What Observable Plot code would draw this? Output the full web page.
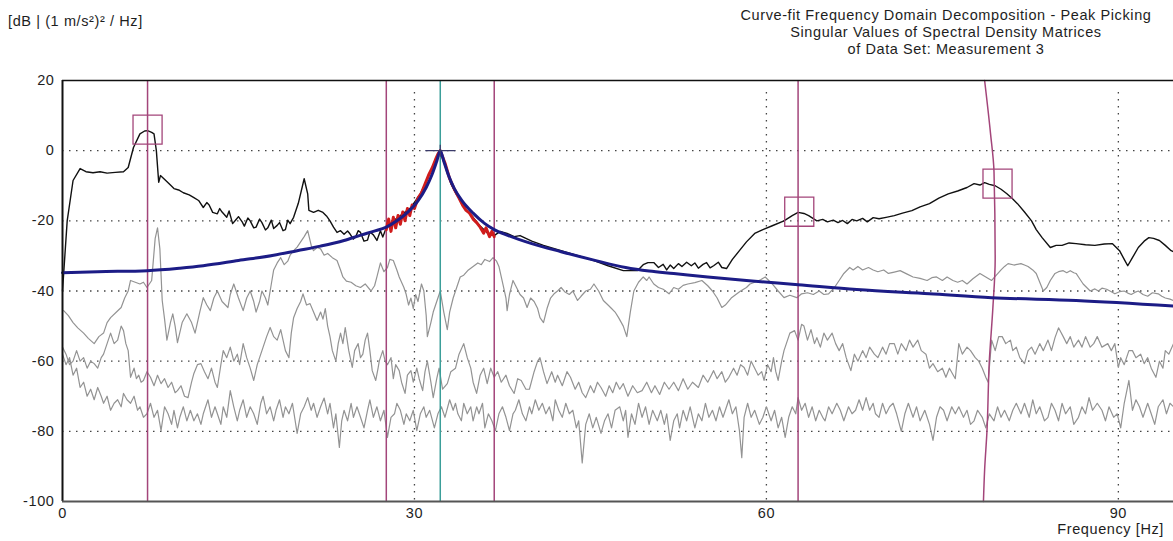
<!DOCTYPE html>
<html><head><meta charset="utf-8">
<script src="https://cdn.jsdelivr.net/npm/d3@7"></script>
<script src="https://cdn.jsdelivr.net/npm/@observablehq/plot@0.6"></script>
<style>
body{margin:0;background:#fff;}
#wrap{position:relative;width:1173px;height:541px;overflow:hidden;font-family:"Liberation Sans",Arial,sans-serif;color:#1e1e1e;font-size:14.5px;letter-spacing:0.6px}
.t{position:absolute;white-space:nowrap;line-height:17px}
</style></head><body>
<div id="wrap">
<div id="chart"></div>
<div class="t" id="ylab" style="left:8px;top:13px"></div>
<div class="t" id="title" style="left:646px;width:600px;top:7px;text-align:center"></div>
<div class="t" id="xlab" style="right:9px;top:521px"></div>
</div>
<script>
// ---- text ----
const yUnitLabel = "[dB | (1 m/s²)² / Hz]";
const titleLines = ["Curve-fit Frequency Domain Decomposition - Peak Picking", "Singular Values of Spectral Density Matrices", "of Data Set: Measurement 3"];
const xAxisLabel = "Frequency [Hz]";

// ---- axes ----
const freqRange = [0, 94.7];
const dbRange = [-100, 20];
const xTicks = [0, 30, 60, 90];
const yTicks = [20, 0, -20, -40, -60, -80, -100];
const gridDb = [0, -20, -40, -60, -80];
const gridHz = [30, 60, 90];

// ---- markers ----
const bandHz = [7.25, 27.6, 36.8, 62.7];
const slantMarker = [[78.6,20],[79.1,5],[79.4,-6],[79.5,-31],[79.3,-45],[79.0,-60],[78.8,-80],[78.6,-91],[78.5,-100]];
const fitPeak = [[32.2, 0]];
const pickedPeaks = [[7.25, 6], [62.8, -17.4], [79.7, -9.4]];

// ---- singular value 1 (black) ----
const sv1 = [[0,-40],[0.1,-35],[0.4,-20],[0.9,-8.5],[1.5,-5.1],[2.0,-6.0],[2.6,-6.3],[3.2,-6.0],[3.8,-6.4],[4.5,-6.2],[5.2,-6.0],[5.6,-4.8],[6.05,0.9],[6.6,4.8],[7.0,5.6],[7.25,5.7],[7.6,5.2],[7.8,4.8],[8.0,0],[8.2,-9],[8.35,-7.1],[8.8,-8.5],[9.2,-9.8],[9.5,-10.8],[9.9,-11.2],[10.3,-12],[10.8,-12.6],[11.2,-13.4],[11.6,-14.2],[12.0,-16.2],[12.3,-14.8],[12.5,-15.5],[12.8,-17.6],[13.2,-18],[13.4,-16.5],[13.6,-17.5],[14.0,-19],[14.2,-17.2],[14.5,-20.8],[14.8,-19.6],[15.0,-18.8],[15.3,-20.2],[15.5,-21.5],[15.8,-19.2],[16.0,-20],[16.3,-22],[16.5,-21.8],[16.8,-19.5],[17.0,-20.5],[17.3,-22.6],[17.5,-22],[17.8,-19.8],[18.0,-22.2],[18.3,-21.3],[18.5,-20.5],[18.8,-22.8],[19.0,-22.5],[19.2,-19.8],[19.4,-20.8],[19.7,-19],[20.1,-15],[20.6,-8],[20.9,-12.3],[21.0,-17],[21.4,-17.6],[21.8,-17],[22.2,-17.6],[22.5,-18.6],[22.8,-20],[23.1,-21.8],[23.4,-23.3],[23.7,-22.8],[24.0,-23.8],[24.3,-22.9],[24.5,-23.7],[24.8,-25.2],[25.0,-24.5],[25.2,-22.8],[25.4,-23.3],[25.7,-25.8],[26.0,-25.5],[26.2,-23.2],[26.5,-24],[26.8,-25.6],[27.1,-22.8],[27.3,-24.6],[27.6,-22],[28.2,-20],[28.8,-18.5],[29.7,-16.2],[30.5,-12.3],[31.0,-9],[31.4,-5.7],[31.8,-2.5],[32.05,-0.6],[32.2,0],[32.5,-2.8],[32.8,-6],[33.1,-9.4],[33.5,-12],[33.9,-14.2],[34.4,-16.8],[35.0,-19],[35.6,-21.5],[36.2,-23.4],[36.8,-24.2],[37.3,-23],[37.9,-23.6],[38.5,-24.5],[39.0,-24.2],[40.0,-25.8],[41.0,-27],[42.5,-28.5],[44.0,-30],[45.3,-31.3],[46.5,-32.8],[47.8,-34.2],[49.0,-34.2],[49.5,-32.5],[49.9,-31.9],[50.4,-31.9],[50.8,-33.3],[51.2,-32.4],[51.5,-34],[51.8,-32.6],[52.1,-33.6],[52.5,-32.2],[52.8,-33],[53.2,-31.8],[53.6,-32.8],[53.9,-32],[54.2,-33.5],[54.6,-32.4],[54.9,-31.9],[55.2,-33.4],[55.5,-32.8],[55.9,-31.8],[56.2,-33.3],[56.6,-33.6],[57.1,-31],[57.7,-28.5],[58.3,-26],[59.0,-23.6],[59.7,-22.5],[60.5,-21.4],[61.5,-20],[62.2,-18.5],[62.7,-17.6],[63.2,-17.9],[63.6,-18.5],[64.3,-20],[64.8,-19.6],[65.2,-20.3],[65.7,-19.8],[66.1,-20.5],[66.5,-19.9],[66.9,-20.8],[67.3,-19.6],[67.7,-20],[68.2,-19.3],[68.6,-20.3],[69.1,-19.1],[69.6,-19.4],[70.2,-19],[70.9,-18.5],[71.6,-17.8],[72.4,-17.1],[73.1,-16],[73.9,-15.1],[74.7,-13.5],[75.5,-12.3],[76.3,-11.5],[77.1,-10.5],[77.7,-9.4],[78.2,-9.8],[78.6,-9.1],[79.0,-9.6],[79.5,-10],[80.0,-11],[80.5,-12.3],[81.0,-13.8],[81.4,-15.1],[82.0,-17.5],[82.6,-20],[83.0,-22.5],[83.5,-24.8],[84.2,-27.6],[84.7,-27],[85.2,-27],[85.8,-26.3],[86.4,-26.5],[87.2,-26.8],[88.0,-27],[88.8,-26.6],[89.5,-26.5],[90.1,-28.5],[90.5,-31],[90.8,-32.8],[91.2,-30.5],[91.7,-27.6],[92.2,-25.8],[92.6,-24.8],[93.0,-25],[93.5,-25.6],[94.0,-27],[94.5,-28.5],[94.7,-28.8]];

// ---- data used in the curve fit (red) ----
const fitBand = [[27.6,-22.5],[27.8,-19.5],[28.0,-23],[28.2,-19],[28.4,-22],[28.6,-18.5],[28.8,-21],[29.0,-17.5],[29.2,-20],[29.4,-16.5],[29.6,-18.5],[29.8,-15.5],[30.0,-16.5],[30.3,-13.5],[30.6,-12],[30.9,-9.5],[31.2,-7],[31.5,-5],[31.8,-2.5],[32.0,-1],[32.2,0],[32.6,-3.5],[33.0,-8],[33.4,-11],[33.8,-13.5],[34.1,-15.5],[34.4,-17],[34.7,-17.8],[35.0,-19.5],[35.3,-20.5],[35.6,-21.8],[35.9,-23.5],[36.1,-22],[36.4,-24.5],[36.6,-23],[36.8,-24.5]];

// ---- SDOF fitted curve (blue) ----
const sdofFit = [[0,-34.8],[3,-34.5],[7.25,-34.2],[10,-33.5],[12,-32.8],[15,-31.3],[18,-29.8],[20,-28.5],[22,-27.2],[24,-25.6],[25.5,-24],[26.5,-23],[27.6,-21.8],[28.5,-20],[29.5,-17.3],[30.3,-14.3],[31,-10.5],[31.5,-6.8],[31.9,-3],[32.2,0],[32.5,-3],[32.9,-7],[33.4,-10.8],[34,-14],[35,-17.8],[36,-20.8],[36.8,-22.5],[38,-24.2],[40,-26.5],[42.5,-28.8],[45.3,-31.2],[48,-33.3],[50,-34.3],[52.1,-35],[55,-36],[58.3,-37],[62.7,-38.2],[67.7,-39.6],[73.9,-40.8],[79.2,-41.9],[86.4,-42.7],[94.7,-44.3]];

// ---- singular values 2..4 (gray) ----
const sv2 = [[0.1,-45.6],[0.5,-47],[0.9,-49],[1.3,-50.5],[1.8,-52],[2.2,-53.5],[2.7,-55],[3.1,-53],[3.5,-52],[3.8,-49],[4.1,-47.6],[4.6,-46],[5.0,-44.7],[5.3,-42],[5.6,-40],[5.8,-37],[6.2,-37.5],[6.6,-38],[6.9,-37.5],[7.2,-39],[7.6,-37],[7.9,-25],[8.1,-22],[8.3,-28],[8.5,-42.7],[8.7,-48],[8.9,-54],[9.2,-49],[9.4,-46.5],[9.6,-50],[9.8,-54.7],[10.2,-49],[10.6,-46.5],[11.0,-49],[11.3,-52],[11.7,-46],[12.0,-41.9],[12.3,-44],[12.6,-45.6],[12.9,-42],[13.2,-40],[13.6,-43],[14.1,-44.7],[14.3,-41],[14.6,-38],[15.0,-42],[15.4,-45.6],[15.7,-42],[16.0,-40],[16.3,-43],[16.5,-46],[16.8,-43],[17.0,-40],[17.3,-42],[17.5,-44],[17.8,-38],[18.0,-34],[18.3,-32],[18.6,-30.5],[18.9,-32.5],[19.2,-31.5],[19.4,-29.8],[19.7,-28.5],[20.0,-27.5],[20.3,-26],[20.6,-24.5],[20.9,-22.8],[21.2,-27],[21.4,-28.5],[21.7,-27.6],[22.0,-28],[22.3,-29.8],[22.6,-29.3],[23.0,-30.5],[23.4,-31.3],[23.7,-34],[23.9,-36],[24.2,-37.2],[24.6,-37.5],[25.0,-38.5],[25.4,-39],[25.8,-38],[26.3,-40],[26.6,-38.5],[26.8,-36],[27.1,-32],[27.4,-34.5],[27.7,-33.3],[27.9,-31],[28.2,-31.3],[28.5,-34],[28.7,-36],[28.9,-37.5],[29.1,-39],[29.3,-41],[29.5,-44],[29.7,-42],[29.9,-45],[30.1,-41],[30.3,-43],[30.6,-38],[30.8,-40],[31.0,-47],[31.1,-53],[31.4,-49],[31.6,-46],[31.9,-43],[32.2,-40],[32.5,-46],[32.8,-51],[33.0,-46],[33.3,-42],[33.6,-39],[33.9,-36],[34.2,-35.5],[34.6,-34],[35.0,-33],[35.4,-32],[35.7,-32.5],[36.0,-31],[36.4,-31.6],[36.7,-30.5],[37.0,-31.5],[37.2,-33],[37.4,-36],[37.6,-39],[37.8,-42],[37.9,-45.6],[38.1,-41],[38.4,-37],[38.7,-39],[39.0,-41],[39.3,-42],[39.6,-44.7],[39.9,-42],[40.2,-43],[40.5,-45],[40.7,-47.6],[41.0,-49],[41.3,-45],[41.6,-42],[41.9,-40.8],[42.2,-40],[42.5,-39],[42.8,-40.2],[43.2,-41],[43.5,-40],[43.9,-42.7],[44.2,-41.5],[44.6,-40],[45.0,-39.5],[45.3,-38],[45.7,-40],[46.1,-42.7],[46.5,-44],[46.8,-45],[47.1,-46],[47.4,-47.6],[47.8,-50],[48.1,-53],[48.4,-46],[48.7,-40],[49.1,-37.5],[49.5,-36],[49.8,-37],[50.0,-36],[50.4,-38],[50.8,-39],[51.2,-39.5],[51.7,-40.8],[52.1,-39],[52.5,-39.5],[52.9,-38.4],[53.3,-38],[53.9,-37.6],[54.5,-37],[55.0,-38.5],[55.4,-40],[55.8,-42],[56.2,-44.7],[56.5,-44],[57.0,-42],[57.4,-41],[57.8,-40],[58.3,-39],[58.6,-38],[59.0,-37.5],[59.5,-36.8],[59.9,-36],[60.2,-37],[60.5,-38],[61.0,-40],[61.5,-41.9],[62.0,-41.2],[62.6,-41.9],[63.0,-40.8],[63.5,-40.5],[64.0,-41],[64.5,-40],[64.9,-41],[65.3,-40.8],[65.8,-39],[66.2,-37],[66.6,-35],[67.1,-33.3],[67.4,-34],[67.8,-33],[68.2,-34],[68.7,-33.3],[69.1,-34],[69.5,-34.5],[70.0,-34],[70.4,-35],[70.9,-34.6],[71.4,-34.2],[72.0,-35.2],[72.5,-36],[73.1,-36.4],[73.7,-37],[74.1,-36.2],[74.5,-36],[75.0,-37],[75.4,-36],[75.9,-37],[76.3,-37.5],[76.7,-37],[77.1,-38],[77.6,-36.5],[78.2,-35],[78.7,-36],[79.2,-37],[79.6,-35.5],[80.0,-34],[80.3,-33],[80.6,-32.2],[81.1,-32.6],[81.7,-32.2],[82.0,-32.6],[82.3,-33],[82.7,-34],[83.0,-35],[83.3,-37.5],[83.6,-40],[83.9,-39],[84.2,-37],[84.6,-35],[84.9,-34.5],[85.3,-34.2],[85.6,-34.8],[85.9,-34.2],[86.2,-34.8],[86.4,-35],[86.7,-36.5],[87.0,-38],[87.3,-39],[87.6,-40],[88.0,-39.4],[88.3,-40],[88.6,-39.2],[89.0,-39.5],[89.4,-40.2],[89.7,-40.8],[90.1,-40.2],[90.5,-40],[90.8,-40.6],[91.1,-41],[91.4,-40.4],[91.7,-40],[92.1,-41],[92.5,-41.5],[92.9,-40.5],[93.4,-40.8],[93.7,-41.5],[94.0,-42],[94.4,-42.3],[94.7,-42.7]];

const sv3 = [[0.0,-56],[0.3,-58],[0.6,-61],[0.9,-60],[1.2,-57],[1.5,-60],[1.8,-59],[2.1,-62],[2.4,-60],[2.7,-60.7],[3.0,-62],[3.3,-59],[3.5,-58],[3.8,-55],[4.1,-52],[4.4,-55],[4.7,-54],[5.0,-50],[5.2,-51.3],[5.4,-55],[5.6,-57],[5.8,-64.6],[6.1,-62],[6.3,-65],[6.5,-64],[6.7,-66],[6.9,-65.5],[7.2,-63],[7.5,-64.6],[7.8,-67],[8.1,-64],[8.4,-66.4],[8.7,-65],[9.0,-67.5],[9.3,-66],[9.6,-69],[9.8,-68.4],[10.1,-67],[10.4,-70],[10.7,-70.4],[11.0,-66],[11.2,-63.5],[11.5,-61],[11.8,-60.7],[12.1,-63],[12.4,-65],[12.7,-62],[13.0,-66],[13.2,-67.5],[13.5,-61],[13.7,-57],[14.0,-59],[14.3,-56],[14.6,-60],[14.9,-58],[15.1,-61],[15.4,-55],[15.7,-59],[16.0,-62],[16.3,-65.5],[16.6,-61],[16.9,-58],[17.1,-56],[17.4,-53],[17.7,-50.4],[18.0,-53],[18.3,-54],[18.6,-51],[18.8,-54],[19.0,-57],[19.3,-59],[19.5,-52],[19.7,-47.6],[20.0,-45],[20.3,-43],[20.5,-40.8],[20.8,-44],[21.1,-43.6],[21.4,-46],[21.7,-48.4],[22.0,-46],[22.2,-48],[22.4,-45],[22.6,-50],[22.8,-53],[23.0,-57],[23.3,-60],[23.5,-55],[23.7,-52],[23.9,-55],[24.1,-50.4],[24.4,-57],[24.7,-61.8],[24.9,-57],[25.2,-55],[25.4,-59],[25.6,-58],[25.8,-54],[26.0,-52],[26.2,-57],[26.4,-62.7],[26.7,-65.5],[26.9,-62],[27.0,-60],[27.3,-57],[27.5,-60],[27.7,-61],[28.0,-59],[28.2,-65],[28.4,-61],[28.7,-62.7],[28.9,-66],[29.2,-69.2],[29.4,-64],[29.7,-62.7],[29.9,-66],[30.2,-62],[30.4,-65],[30.7,-68.4],[30.9,-63],[31.1,-60],[31.4,-66],[31.6,-70.4],[31.9,-65],[32.1,-62],[32.4,-68],[32.8,-66.4],[33.1,-63],[33.5,-62],[33.8,-58],[34.2,-55],[34.5,-59],[34.8,-62],[35.0,-66],[35.3,-69.2],[35.6,-64],[35.9,-62],[36.2,-66.4],[36.5,-62],[36.8,-64.6],[37.1,-63],[37.4,-66],[37.8,-64],[38.1,-67],[38.5,-69.2],[38.8,-65],[39.1,-65.5],[39.5,-68],[39.8,-68],[40.2,-63],[40.5,-60],[40.7,-59],[41.0,-63],[41.3,-66.4],[41.7,-63],[42.0,-66],[42.2,-64],[42.6,-67],[43.0,-63],[43.3,-64.6],[43.7,-68],[44.0,-66],[44.3,-69],[44.6,-70.4],[45.0,-67],[45.3,-69],[45.6,-66],[45.9,-67.5],[46.3,-70],[46.6,-67],[46.9,-69],[47.2,-66],[47.5,-68],[47.8,-66.4],[48.2,-70],[48.6,-67],[49.0,-69],[49.4,-68.4],[49.8,-66],[50.2,-69],[50.5,-67],[50.9,-69.5],[51.3,-66],[51.7,-68],[52.1,-66],[52.5,-68.4],[52.9,-65],[53.3,-68],[53.7,-66],[54.2,-67.5],[54.6,-64],[55.0,-66],[55.5,-62.7],[55.8,-65],[56.2,-63],[56.5,-66],[56.8,-64.6],[57.2,-62],[57.5,-64],[57.8,-61],[58.1,-61.8],[58.4,-64],[58.7,-60],[59.0,-62],[59.3,-64],[59.6,-63],[59.8,-65.5],[60.1,-61],[60.4,-63],[60.6,-59],[60.8,-63],[61.0,-65.5],[61.3,-60],[61.5,-57],[61.7,-55],[62.0,-52],[62.4,-51.3],[62.7,-54],[63.0,-49.5],[63.2,-50],[63.5,-54],[63.8,-51],[64.1,-55],[64.3,-53.3],[64.6,-56],[64.9,-52],[65.2,-54],[65.6,-52],[65.9,-55],[66.2,-57],[66.5,-55],[66.8,-59],[67.2,-62.7],[67.5,-58],[67.8,-60],[68.2,-57],[68.5,-59],[68.8,-56],[69.2,-58],[69.5,-59],[69.9,-56],[70.2,-58],[70.5,-55],[70.9,-55],[71.2,-58],[71.5,-55],[71.9,-57],[72.2,-54],[72.5,-56],[72.9,-54],[73.2,-57],[73.6,-58],[73.9,-62],[74.2,-60.7],[74.6,-63],[75.0,-62],[75.3,-64.6],[75.6,-62],[76.1,-65],[76.4,-55],[76.7,-58],[77.1,-56],[77.4,-57],[77.8,-59],[78.1,-60],[78.4,-62],[78.7,-64.6],[78.9,-66],[79.2,-54],[79.5,-57],[79.8,-53],[80.1,-53],[80.4,-55],[80.8,-54],[81.0,-57],[81.3,-56],[81.6,-59],[82.0,-60.7],[82.3,-57],[82.6,-56],[82.9,-58],[83.3,-55],[83.6,-57],[84.0,-54],[84.3,-57],[84.6,-53.3],[84.9,-50.5],[85.3,-53],[85.6,-55],[85.9,-53],[86.2,-56],[86.6,-54],[86.9,-56],[87.2,-53],[87.6,-56],[87.9,-55],[88.2,-53],[88.6,-56],[89.1,-55],[89.4,-57],[89.7,-55],[90.0,-61.8],[90.2,-59],[90.5,-61],[90.9,-57],[91.2,-57],[91.5,-59],[91.9,-58],[92.2,-60.7],[92.5,-59],[92.8,-62],[93.2,-64.6],[93.5,-60],[93.8,-62],[94.0,-57],[94.3,-58],[94.7,-55]];

const sv4 = [[0.0,-58],[0.3,-61],[0.6,-59],[0.9,-64],[1.2,-62],[1.5,-67.5],[1.8,-66],[2.1,-70],[2.4,-68],[2.7,-71],[3.0,-67.5],[3.3,-70],[3.5,-72],[3.8,-70],[4.1,-74],[4.4,-72],[4.7,-71],[5.0,-73],[5.2,-69.2],[5.5,-71],[5.8,-72],[6.1,-70],[6.4,-74],[6.6,-73],[6.9,-76],[7.2,-75],[7.5,-72],[7.8,-76],[8.1,-74],[8.4,-79.8],[8.7,-73],[9.0,-75],[9.3,-78],[9.5,-74],[9.8,-79],[10.0,-76],[10.3,-73],[10.6,-77],[10.9,-74],[11.2,-77],[11.5,-75],[11.8,-78],[12.0,-75],[12.4,-71],[12.7,-76],[13.0,-73],[13.2,-75],[13.5,-78],[13.7,-73],[14.0,-76],[14.3,-68.4],[14.6,-73],[14.9,-77],[15.1,-74],[15.4,-71],[15.7,-76],[16.0,-73],[16.3,-75],[16.6,-78],[16.9,-72],[17.1,-70],[17.4,-75],[17.7,-73],[18.0,-77],[18.2,-74],[18.5,-71],[18.8,-76],[19.0,-73],[19.3,-75],[19.6,-72],[20.0,-80.6],[20.3,-75],[20.6,-73],[20.9,-70.4],[21.2,-74],[21.4,-72],[21.7,-76],[22.0,-73],[22.3,-70.5],[22.6,-75],[22.8,-72],[23.1,-79],[23.3,-75],[23.6,-84.6],[23.8,-77],[24.0,-74],[24.3,-77],[24.6,-72],[24.8,-76],[25.1,-73],[25.4,-76],[25.7,-79],[26.0,-74],[26.2,-71],[26.5,-76],[26.8,-73],[27.1,-77],[27.4,-74],[27.7,-81.7],[28.0,-76],[28.3,-75],[28.5,-72],[28.8,-74],[29.1,-78],[29.3,-75],[29.6,-77],[29.9,-74],[30.2,-79.8],[30.5,-75],[30.8,-73],[31.0,-76],[31.3,-74],[31.7,-79],[32.0,-75],[32.3,-73],[32.6,-76],[33.0,-71],[33.3,-74],[33.5,-72],[33.7,-75],[34.0,-77],[34.2,-72],[34.5,-75],[34.8,-73],[35.0,-77],[35.3,-73],[35.5,-75],[35.8,-72],[36.0,-79],[36.3,-75],[36.6,-77],[36.9,-79.8],[37.2,-75],[37.5,-73],[37.8,-76],[38.1,-79.8],[38.4,-75],[38.6,-74],[38.9,-71],[39.2,-75],[39.5,-77],[39.8,-73],[40.0,-75],[40.3,-71],[40.6,-74],[40.9,-72],[41.2,-75],[41.5,-73],[41.8,-77],[42.0,-71],[42.3,-74],[42.6,-76],[42.9,-72],[43.2,-75],[43.5,-74],[43.8,-79],[44.0,-77],[44.3,-89],[44.6,-78],[44.9,-75],[45.2,-79],[45.5,-76],[45.9,-80.6],[46.2,-77],[46.5,-75],[46.8,-79],[47.1,-74],[47.5,-73],[47.8,-77],[48.0,-74],[48.2,-81.7],[48.5,-75],[48.8,-78],[49.1,-72],[49.4,-76],[49.7,-73],[50.0,-78],[50.3,-74],[50.7,-77],[51.0,-74],[51.3,-78],[51.5,-75],[51.8,-82.6],[52.1,-77],[52.4,-75],[52.6,-79],[52.9,-74],[53.2,-77],[53.5,-73],[53.9,-79],[54.2,-75],[54.5,-77],[54.8,-72],[55.1,-76],[55.4,-74],[55.7,-77],[56.0,-73],[56.3,-76],[56.8,-71],[57.1,-75],[57.4,-73],[57.7,-79.8],[57.9,-87.5],[58.1,-76],[58.4,-72],[58.7,-76],[59.0,-74],[59.4,-78],[59.7,-76],[60.0,-73],[60.4,-77],[60.7,-74],[61.0,-79],[61.3,-76],[61.6,-81.7],[61.9,-76],[62.2,-73],[62.5,-75],[62.7,-70.4],[63.0,-74],[63.3,-72],[63.6,-76],[63.9,-73],[64.2,-77],[64.5,-74],[64.8,-76],[65.0,-77],[65.3,-73],[65.6,-75],[66.0,-72],[66.3,-74],[66.6,-77],[67.0,-73],[67.3,-75],[67.6,-74],[67.9,-71],[68.2,-74],[68.5,-70.4],[68.8,-74],[69.1,-72],[69.3,-75],[69.6,-76],[69.9,-72],[70.2,-75],[70.5,-73],[70.8,-72],[71.1,-75],[71.5,-80],[71.8,-75],[72.1,-72],[72.5,-76],[72.8,-73],[73.1,-77],[73.5,-74],[73.9,-78],[74.2,-82.6],[74.5,-76],[74.8,-73],[75.1,-74],[75.4,-77],[75.8,-73],[76.1,-75],[76.4,-73],[76.8,-76],[77.1,-74],[77.4,-78],[77.7,-77],[78.0,-74],[78.4,-76],[78.7,-79],[79.0,-75],[79.4,-77],[79.7,-73],[80.0,-76],[80.3,-74],[80.7,-77],[81.0,-74],[81.3,-72],[81.7,-75],[82.0,-72],[82.4,-76],[82.7,-71],[83.0,-75],[83.3,-73],[83.7,-77],[84.0,-76],[84.3,-72],[84.6,-74],[84.9,-77],[85.2,-72],[85.5,-75],[85.9,-73],[86.2,-78],[86.6,-76],[86.9,-73],[87.2,-75],[87.5,-70.4],[87.8,-74],[88.2,-72],[88.6,-74],[88.9,-77],[89.2,-73],[89.6,-76],[89.9,-75],[90.2,-79],[90.5,-72],[90.9,-65.5],[91.2,-74],[91.5,-71],[91.8,-73],[92.1,-76],[92.5,-72],[92.8,-75],[93.1,-78],[93.4,-73],[93.8,-71],[94.1,-75],[94.4,-72],[94.7,-73]];

// ---- drawing ----
document.getElementById("ylab").textContent = yUnitLabel;
document.getElementById("title").innerHTML = titleLines.map(s => `<div>${s}</div>`).join("");
document.getElementById("xlab").textContent = xAxisLabel;

const rows = a => a.map(([hz, db]) => ({hz, db}));
const magenta = "#a3457a";
const grayLine = "#939393";
const crossSymbol = {draw(ctx) { ctx.moveTo(-15, 0); ctx.lineTo(15, 0); ctx.moveTo(0, -6); ctx.lineTo(0, 6); }};

const chart = Plot.plot({
  width: 1173, height: 541,
  marginLeft: 62, marginRight: 0, marginTop: 80, marginBottom: 40,
  style: {fontFamily: '"Liberation Sans", Arial, sans-serif', fontSize: "14.5px", letterSpacing: "0.6px", color: "#1e1e1e", background: "#fff", overflow: "visible"},
  x: {domain: freqRange, ticks: xTicks, tickSize: 0, tickPadding: 6, label: null, tickFormat: d => String(d)},
  y: {domain: dbRange, ticks: yTicks, tickSize: 0, tickPadding: 8, label: null, tickFormat: d => String(d)},
  marks: [
    Plot.ruleY(gridDb, {stroke: "#444", strokeWidth: 1.3, strokeDasharray: "1.5,5.5"}),
    Plot.ruleX(gridHz, {stroke: "#444", strokeWidth: 1.3, strokeDasharray: "1.5,5.5", insetTop: 12}),
    Plot.line(rows(sv4), {x: "hz", y: "db", stroke: grayLine, strokeWidth: 1.2}),
    Plot.line(rows(sv3), {x: "hz", y: "db", stroke: grayLine, strokeWidth: 1.2}),
    Plot.line(rows(sv2), {x: "hz", y: "db", stroke: grayLine, strokeWidth: 1.2}),
    Plot.line(rows(sv1), {x: "hz", y: "db", stroke: "#111", strokeWidth: 1.4}),
    Plot.ruleX(bandHz, {stroke: magenta, strokeWidth: 1.5}),
    Plot.line(rows(slantMarker), {x: "hz", y: "db", stroke: magenta, strokeWidth: 1.5, curve: "monotone-y"}),
    Plot.ruleX(fitPeak.map(d => d[0]), {stroke: "#3b9e99", strokeWidth: 1.5}),
    Plot.line(rows(fitBand), {x: "hz", y: "db", stroke: "#d01c1c", strokeWidth: 3}),
    Plot.line(rows(sdofFit), {x: "hz", y: "db", stroke: "#1c1c86", strokeWidth: 3, curve: "monotone-x"}),
    Plot.dot(rows(pickedPeaks), {x: "hz", y: "db", symbol: "square", r: 16.4, stroke: magenta, strokeWidth: 1.3, fill: "none"}),
    Plot.dot(rows(fitPeak), {x: "hz", y: "db", symbol: crossSymbol, stroke: "#3a3a6a", strokeWidth: 1.2, fill: "none"}),
    Plot.ruleX([freqRange[0]], {stroke: "#111", strokeWidth: 2}),
    Plot.ruleY([dbRange[1]], {stroke: "#111", strokeWidth: 1.5}),
    Plot.ruleY([dbRange[0]], {stroke: "#555", strokeWidth: 2})
  ]
});
document.getElementById("chart").append(chart);
</script>
</body></html>
